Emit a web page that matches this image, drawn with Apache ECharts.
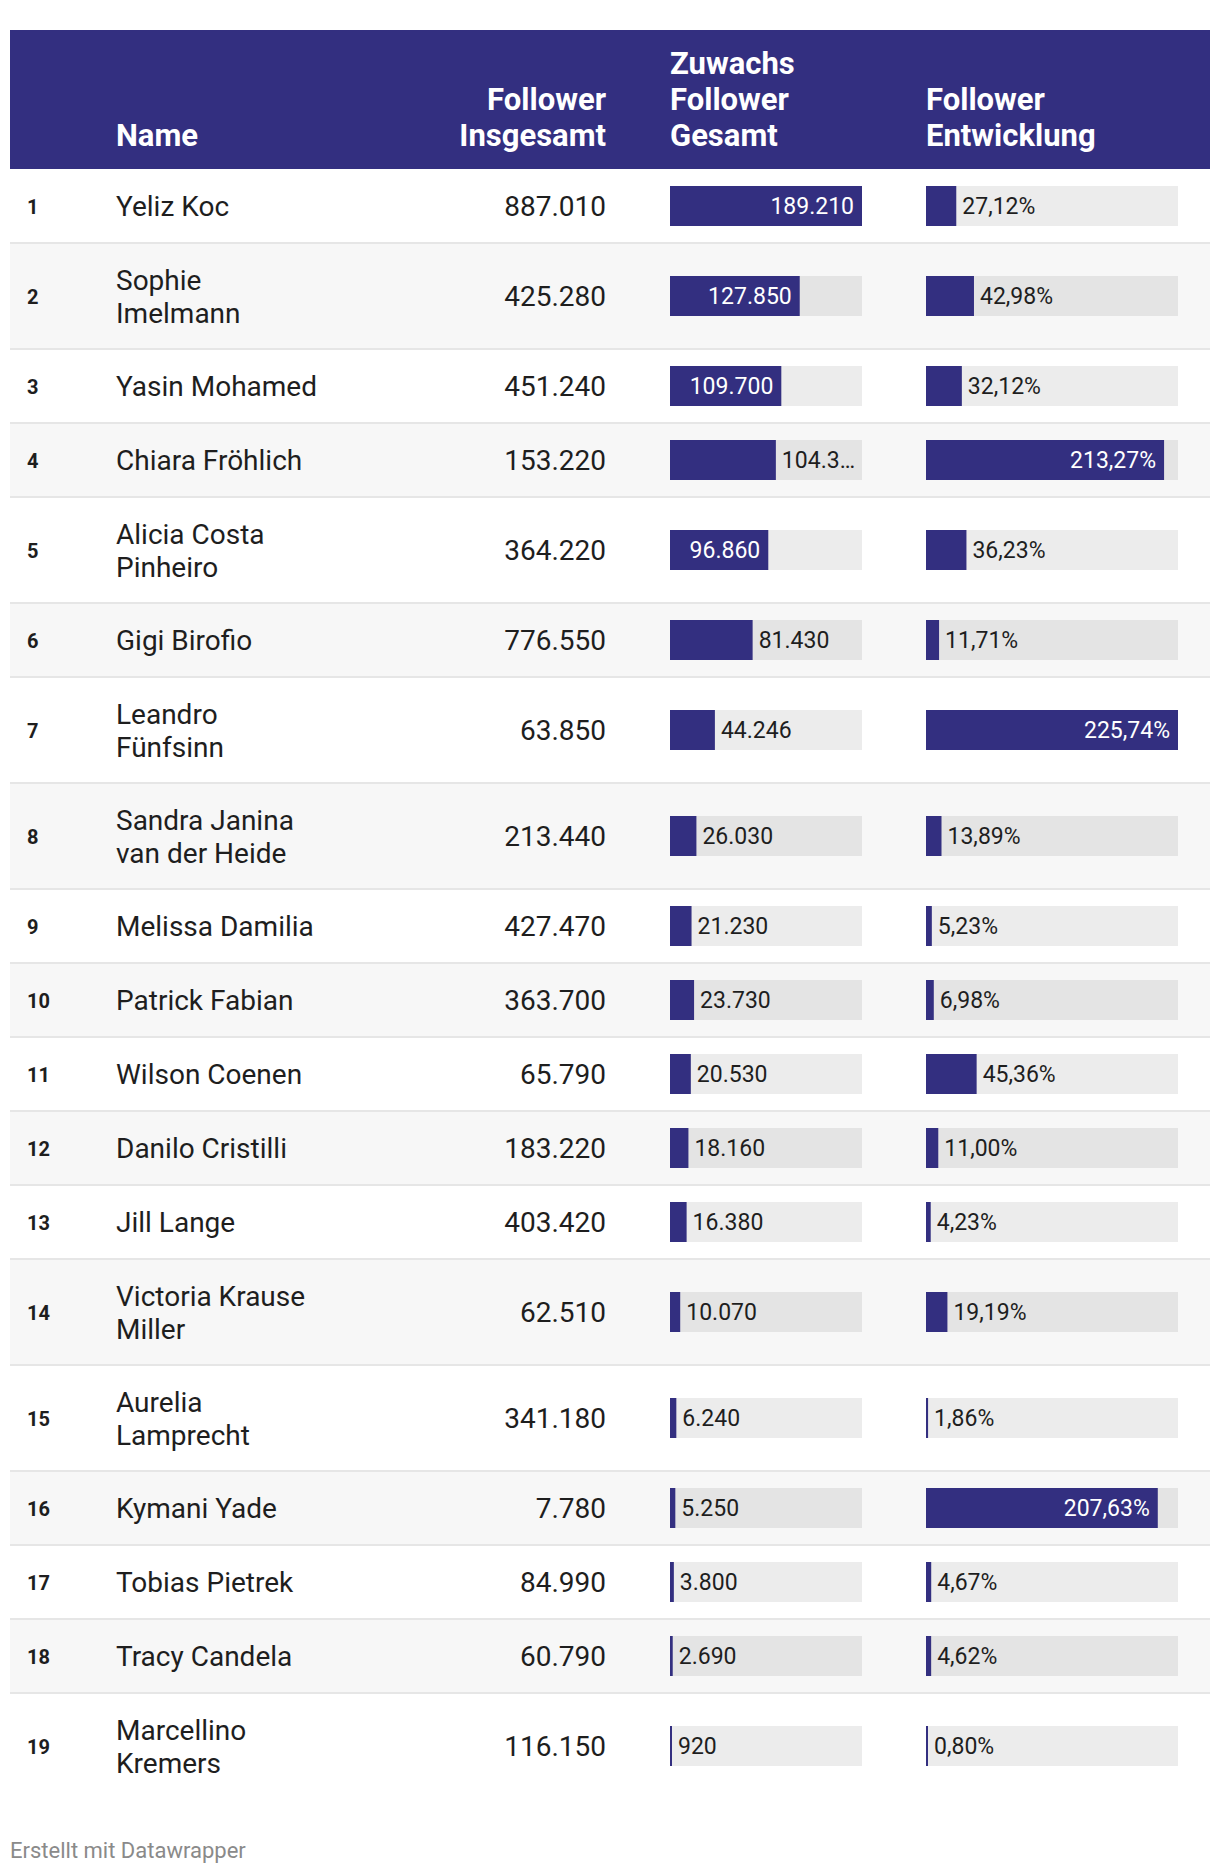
<!DOCTYPE html>
<html>
<head>
<meta charset="utf-8">
<script src="https://cdn.jsdelivr.net/npm/echarts@6/dist/echarts.min.js"></script>
<style>
html,body{margin:0;padding:0;background:#ffffff;}
#chart{width:1220px;height:1874px;}
</style>
</head>
<body>
<div id="chart"></div>
<script>
// ---------------- DATA ----------------
const headerName = 'Name';
const headerTotal = ['Follower', 'Insgesamt'];
const headerZuwachs = ['Zuwachs', 'Follower', 'Gesamt'];
const headerEntwicklung = ['Follower', 'Entwicklung'];
const footerText = 'Erstellt mit Datawrapper';

const ranks = [1, 2, 3, 4, 5, 6, 7, 8, 9, 10, 11, 12, 13, 14, 15, 16, 17, 18, 19];
const names = [
  'Yeliz Koc', 'Sophie\nImelmann', 'Yasin Mohamed', 'Chiara Fröhlich', 'Alicia Costa\nPinheiro',
  'Gigi Birofio', 'Leandro\nFünfsinn', 'Sandra Janina\nvan der Heide', 'Melissa Damilia',
  'Patrick Fabian', 'Wilson Coenen', 'Danilo Cristilli', 'Jill Lange', 'Victoria Krause\nMiller',
  'Aurelia\nLamprecht', 'Kymani Yade', 'Tobias Pietrek', 'Tracy Candela', 'Marcellino\nKremers'
];
const followerTotal = [887010, 425280, 451240, 153220, 364220, 776550, 63850, 213440, 427470,
  363700, 65790, 183220, 403420, 62510, 341180, 7780, 84990, 60790, 116150];
const zuwachs = [189210, 127850, 109700, 104330, 96860, 81430, 44246, 26030, 21230,
  23730, 20530, 18160, 16380, 10070, 6240, 5250, 3800, 2690, 920];
const entwicklung = [27.12, 42.98, 32.12, 213.27, 36.23, 11.71, 225.74, 13.89, 5.23,
  6.98, 45.36, 11.00, 4.23, 19.19, 1.86, 207.63, 4.67, 4.62, 0.80];
// where the value label sits (inside the bar or after it)
const zuwachsLabelInside = [true, true, true, false, true, false, false, false, false,
  false, false, false, false, false, false, false, false, false, false];
const entwicklungLabelInside = [false, false, false, true, false, false, true, false, false,
  false, false, false, false, false, false, true, false, false, false];

// ---------------- LAYOUT / STYLE ----------------
const FONT = 'Roboto, "Noto Sans", sans-serif';
const DARK = '#332f80';
const TEXT = '#1e1e1e';
const TRACK = 'rgba(0,0,0,0.075)';
const tableLeft = 10, tableRight = 1210;
const headerTop = 30, headerBottom = 169;
const singleRowH = 74, doubleRowH = 106;
const rankX = 27, nameX = 116, totalRight = 606;
const zLeft = 670, zWidth = 192;
const eLeft = 926, eWidth = 252;
const barH = 40;

function fmtInt(v) { return String(v).replace(/\B(?=(\d{3})+(?!\d))/g, '.'); }
function fmtPct(v) { return v.toFixed(2).replace('.', ',') + '%'; }

const zMax = Math.max(...zuwachs);
const eMax = Math.max(...entwicklung);

// rows geometry derived from number of text lines
const rowTops = [], rowHeights = [];
let yCursor = headerBottom;
names.forEach(n => {
  const h = n.split('\n').length > 1 ? doubleRowH : singleRowH;
  rowTops.push(yCursor); rowHeights.push(h);
  yCursor += h;
});

const graphics = [];
// header background
graphics.push({ type: 'rect', z: 0, shape: { x: tableLeft, y: headerTop, width: tableRight - tableLeft, height: headerBottom - headerTop }, style: { fill: DARK } });

// header texts (bottom aligned)
const headerFont = { fill: '#ffffff', fontFamily: FONT, fontWeight: 'bold', fontSize: 31 };
const headerLastLineY = 135, headerLineH = 36;
function headerCol(lines, x, align) {
  lines.forEach((t, k) => {
    const fromBottom = lines.length - 1 - k;
    graphics.push({ type: 'text', z: 10, style: Object.assign({ text: t, x: x, y: headerLastLineY - fromBottom * headerLineH, align: align, verticalAlign: 'middle' }, headerFont) });
  });
}
headerCol([headerName], nameX, 'left');
headerCol(headerTotal, totalRight, 'right');
headerCol(headerZuwachs, zLeft, 'left');
headerCol(headerEntwicklung, eLeft, 'left');

// row backgrounds, separators and text
names.forEach((n, i) => {
  const top = rowTops[i], h = rowHeights[i], cy = top + h / 2;
  if (i % 2 === 1) {
    graphics.push({ type: 'rect', z: 0, shape: { x: tableLeft, y: top, width: tableRight - tableLeft, height: h }, style: { fill: '#f7f7f7' } });
  }
  if (i > 0) {
    graphics.push({ type: 'rect', z: 1, shape: { x: tableLeft, y: top - 1, width: tableRight - tableLeft, height: 2 }, style: { fill: '#e6e6e6' } });
  }
  const multi = n.indexOf('\n') >= 0;
  graphics.push({ type: 'text', z: 10, style: { text: String(ranks[i]), x: rankX, y: cy + 1, align: 'left', verticalAlign: 'middle', fill: TEXT, fontFamily: FONT, fontWeight: 'bold', fontSize: 20 } });
  graphics.push({ type: 'text', z: 10, style: { text: n, x: nameX, y: cy + (multi ? 1 : 0), align: 'left', verticalAlign: 'middle', fill: TEXT, fontFamily: FONT, fontSize: 28, lineHeight: 33 } });
  graphics.push({ type: 'text', z: 10, style: { text: fmtInt(followerTotal[i]), x: totalRight, y: cy, align: 'right', verticalAlign: 'middle', fill: TEXT, fontFamily: FONT, fontSize: 28 } });
});

// footer
graphics.push({ type: 'text', z: 10, style: { text: footerText, x: tableLeft, y: 1850, align: 'left', verticalAlign: 'middle', fill: '#8a8a8a', fontFamily: FONT, fontSize: 22 } });

// ---------------- BAR GRIDS ----------------
const grids = [], xAxes = [], yAxes = [], series = [];
function addBar(i, left, width, values, maxV, inside, fmt) {
  const gi = grids.length;
  const cy = rowTops[i] + rowHeights[i] / 2;
  grids.push({ left: left, width: width, top: cy - barH / 2, height: barH, containLabel: false });
  xAxes.push({ type: 'value', gridIndex: gi, min: 0, max: maxV, show: false });
  yAxes.push({ type: 'category', gridIndex: gi, data: [names[i]], show: false });
  const v = values[i];
  const remaining = (1 - v / maxV) * width;
  const label = inside[i]
    ? { show: true, position: 'insideRight', distance: 8, color: '#ffffff', fontFamily: FONT, fontSize: 23, formatter: () => fmt(v) }
    : { show: true, position: 'right', distance: 6, color: TEXT, fontFamily: FONT, fontSize: 23, width: Math.max(remaining - 10, 10), overflow: 'truncate', ellipsis: '…', formatter: () => fmt(v) };
  series.push({
    type: 'bar', xAxisIndex: gi, yAxisIndex: gi,
    data: [v], barWidth: barH, barMinHeight: 2,
    showBackground: true, backgroundStyle: { color: TRACK },
    itemStyle: { color: DARK },
    label: label, silent: true, animation: false
  });
}
names.forEach((n, i) => {
  addBar(i, zLeft, zWidth, zuwachs, zMax, zuwachsLabelInside, fmtInt);
  addBar(i, eLeft, eWidth, entwicklung, eMax, entwicklungLabelInside, fmtPct);
});

const chart = echarts.init(document.getElementById('chart'), null, { renderer: 'svg', width: 1220, height: 1874 });
chart.setOption({
  backgroundColor: '#ffffff',
  animation: false,
  graphic: { elements: graphics },
  grid: grids,
  xAxis: xAxes,
  yAxis: yAxes,
  series: series
});
</script>
</body>
</html>
